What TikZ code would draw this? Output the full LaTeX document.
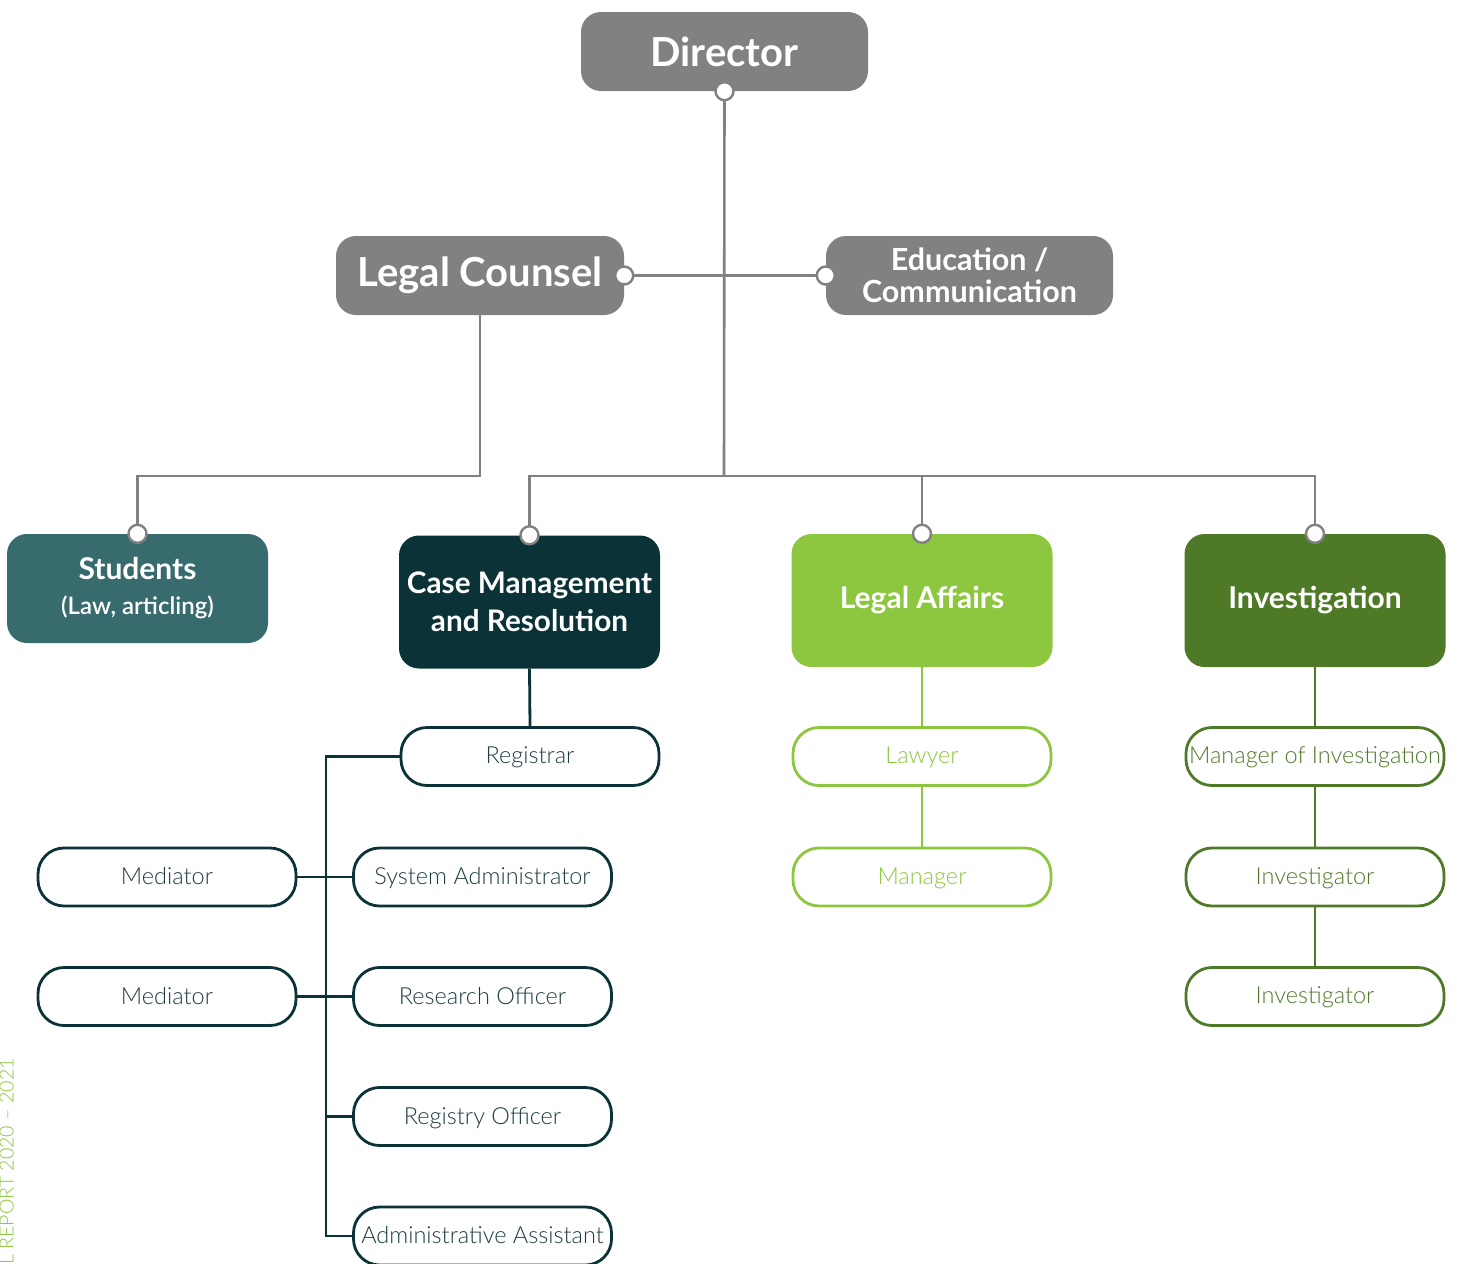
\documentclass[tikz,border=0pt]{standalone}
\usepackage{fontspec}
\setmainfont{Lato}
\newfontfamily\lightfont{Lato Light}
\definecolor{cgray}{HTML}{808180}
\definecolor{cteal}{HTML}{386B6E}
\definecolor{cdark}{HTML}{0B3236}
\definecolor{ctext}{HTML}{1C3C40}
\definecolor{clight}{HTML}{8DC63F}
\definecolor{cgreen}{HTML}{4E7A27}
\tikzset{
  bigbox/.style={rounded corners=20pt, inner sep=0pt, text=white, align=center, font=\bfseries\fontsize{30}{36}\selectfont},
  graybox/.style={bigbox, fill=cgray, minimum width=287pt, minimum height=79pt},
  deptbox/.style={bigbox, minimum width=261pt, minimum height=133pt},
  rolebox/.style={rounded corners=26pt, draw, line width=2.8pt, fill=white, inner sep=0pt, minimum width=258pt, minimum height=58pt, text depth=2pt, font=\lightfont\fontsize{23.5}{28}\selectfont},
  darkrole/.style={rolebox, draw=cdark, text=ctext},
  lightrole/.style={rolebox, draw=clight, text=clight},
  greenrole/.style={rolebox, draw=cgreen, text=cgreen},
  gline/.style={draw=cgray, line width=2.6pt},
  dline/.style={draw=cdark, line width=2.8pt},
  lline/.style={draw=clight, line width=2.8pt},
  grline/.style={draw=cgreen, line width=2.8pt},
  knob/.style={circle, fill=white, draw=cgray, line width=2.4pt, minimum size=18pt, inner sep=0pt},
}
\begin{document}
\begin{tikzpicture}[x=1pt,y=-1pt]
\useasboundingbox (0,0) rectangle (1460,1264);
% top level
\node[graybox, font=\bfseries\fontsize{40}{44}\selectfont] (director) at (724.5,51.5) {Director};
\node[graybox, minimum width=288pt, font=\bfseries\fontsize{40}{44}\selectfont] (lc) at (480,275.5) {Legal Counsel};
\node[graybox, font=\bfseries\fontsize{30.5}{32}\selectfont] (edu) at (969.5,275.5) {Education /\\Communication};
% departments
\node[bigbox, fill=cteal, minimum width=261pt, minimum height=109pt, font=\bfseries\fontsize{30}{34}\selectfont] (students) at (137.5,588.5) {Students\\[1pt]{\lightfont\fontsize{24}{30}\selectfont(Law, articling)}};
\node[deptbox, fill=cdark, font=\bfseries\fontsize{29.7}{38}\selectfont] (cm) at (529.5,602) {Case Management\\and Resolution};
\node[deptbox, fill=clight] (la) at (922,600.5) {Legal Affairs};
\node[deptbox, fill=cgreen] (inv) at (1315,600.5) {Investigation};
% roles
\node[darkrole] (registrar) at (530,756.5) {Registrar};
\node[darkrole] (sysadmin) at (482.5,877) {System Administrator};
\node[darkrole] (research) at (482.5,996.5) {Research Officer};
\node[darkrole] (registry) at (482.5,1116.5) {Registry Officer};
\node[darkrole] (admin) at (482.5,1236) {Administrative Assistant};
\node[darkrole] (med1) at (167,877) {Mediator};
\node[darkrole] (med2) at (167,996.5) {Mediator};
\node[lightrole] (lawyer) at (922,756.5) {Lawyer};
\node[lightrole] (manager) at (922,877) {Manager};
\node[greenrole] (moi) at (1315,756.5) {Manager of Investigation};
\node[greenrole] (inv1) at (1315,877) {Investigator};
\node[greenrole] (inv2) at (1315,996.5) {Investigator};
% junctions
\coordinate (j) at (724,476);
\coordinate (t) at (326,758);
% gray connectors
\draw[gline] (director.south) -- (j);
\draw[gline] (lc.east) -- (edu.west);
\draw[gline] (lc.south) -- (lc.south |- j) -| (students.north);
\draw[gline] (cm.north) -- (cm.north |- j) -- (inv.north |- j) -- (inv.north);
\draw[gline] (la.north) -- (la.north |- j);
% dark connectors
\draw[dline] (cm.south) -- (registrar.north);
\draw[dline] (registrar.west) -- (registrar.west -| t) -- (t |- admin.west) -- (admin.west);
\draw[dline] (med1.east) -- (sysadmin.west);
\draw[dline] (med2.east) -- (research.west);
\draw[dline] (t |- registry.west) -- (registry.west);
% green connectors
\draw[lline] (la.south) -- (lawyer.north);
\draw[lline] (lawyer.south) -- (manager.north);
\draw[grline] (inv.south) -- (moi.north);
\draw[grline] (moi.south) -- (inv1.north);
\draw[grline] (inv1.south) -- (inv2.north);
% knobs
\node[knob] (k1) at (director.south) {};
\node[knob] (k2) at (lc.east) {};
\node[knob] (k3) at (edu.west) {};
\node[knob] (k4) at (students.north) {};
\node[knob] (k5) at (cm.north) {};
\node[knob] (k6) at (la.north) {};
\node[knob] (k7) at (inv.north) {};
% side text
\node[rotate=90, anchor=base east, text=clight, inner sep=0pt, font=\lightfont\fontsize{19.6}{24}\selectfont] (side) at (13.5,1058) {L REPORT 2020 – 2021};
\end{tikzpicture}
\end{document}
